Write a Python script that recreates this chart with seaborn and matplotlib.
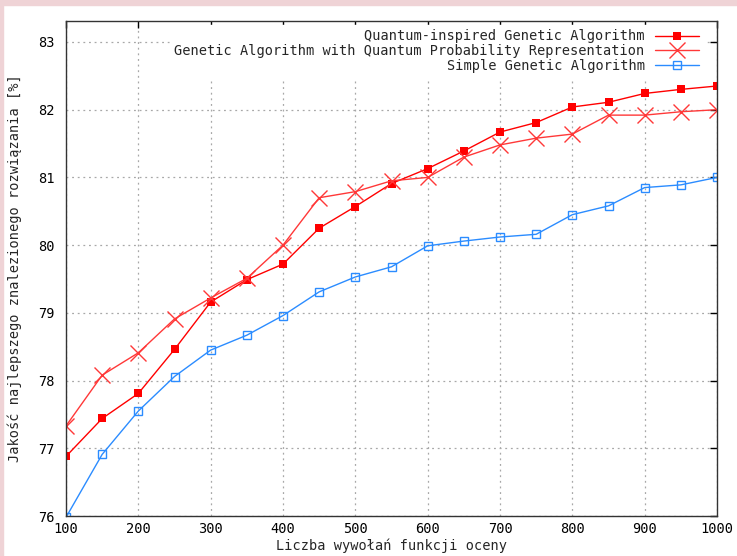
import numpy as np
import matplotlib
matplotlib.use("Agg")
import matplotlib.pyplot as plt
import seaborn as sns
from matplotlib.patches import Rectangle

# number of fitness function evaluations
evaluations = [100, 150, 200, 250, 300, 350, 400, 450, 500, 550,
               600, 650, 700, 750, 800, 850, 900, 950, 1000]

# quality of best solution found [%]
qiga = [76.88, 77.44, 77.81, 78.46, 79.16, 79.49, 79.72, 80.25, 80.57, 80.91,
        81.13, 81.39, 81.67, 81.81, 82.04, 82.11, 82.24, 82.30, 82.35]
gaqpr = [77.33, 78.08, 78.41, 78.91, 79.22, 79.51, 80.00, 80.70, 80.79, 80.95,
         81.00, 81.30, 81.48, 81.58, 81.64, 81.92, 81.92, 81.97, 82.00]
sga = [75.98, 76.91, 77.55, 78.06, 78.45, 78.67, 78.96, 79.31, 79.53, 79.68,
       79.99, 80.06, 80.12, 80.16, 80.45, 80.58, 80.85, 80.89, 81.00]

series_names = ["Quantum-inspired Genetic Algorithm",
                "Genetic Algorithm with Quantum Probability Representation",
                "Simple Genetic Algorithm"]

sns.set_style("white")
plt.rcParams['font.family'] = ['DejaVu Sans Mono']
plt.rcParams['font.size'] = 9.8

fig = plt.figure(figsize=(7.37, 5.56), dpi=100)
# pink frame at the top and left edges
fig.add_artist(Rectangle((0, 1 - 5 / 556), 1, 5 / 556, transform=fig.transFigure,
                         color="#efd3d6", zorder=-1))
fig.add_artist(Rectangle((0, 0), 3 / 737, 1, transform=fig.transFigure,
                         color="#efd3d6", zorder=-1))

ax = fig.add_axes([66 / 737, 1 - 516 / 556, (717 - 66) / 737, (516 - 21) / 556])

sns.lineplot(x=evaluations, y=qiga, ax=ax, color="#ff0000", lw=1,
             marker="s", markersize=6, markeredgewidth=0, label=series_names[0])
sns.lineplot(x=evaluations, y=gaqpr, ax=ax, color="#ff3838", lw=1,
             marker="x", markersize=12, markeredgewidth=1,
             markeredgecolor="#ff3838", label=series_names[1])
sns.lineplot(x=evaluations, y=sga, ax=ax, color="#2b8cff", lw=1,
             marker="s", markersize=6, markerfacecolor="none",
             markeredgecolor="#2b8cff", markeredgewidth=1, label=series_names[2])

ax.set_xlim(100, 1000)
ax.set_ylim(76, 83.31)
ax.set_xticks(range(100, 1001, 100))
ax.set_yticks(range(76, 84))
ax.grid(True, color="#a8a8a8", linestyle=(0, (1.5, 3)), linewidth=0.9)
ax.set_axisbelow(True)
ax.tick_params(direction="in", top=True, right=True, length=5, width=1,
               labelsize=9.8, colors="black")
ax.tick_params(axis="x", pad=4)
ax.tick_params(axis="y", pad=8)
for s in ax.spines.values():
    s.set_color("#333333")
    s.set_linewidth(1)

ax.set_xlabel("Liczba wywołań funkcji oceny", fontsize=9.8, labelpad=2)
ax.set_ylabel("Jakość najlepszego znalezionego rozwiązania [%]", fontsize=9.8, labelpad=12)

leg = ax.legend(loc="upper right", bbox_to_anchor=(0.989, 1.005), markerfirst=False,
                frameon=True, framealpha=1, edgecolor="white", fancybox=False,
                handlelength=3.2, handletextpad=0.8, labelspacing=0.05,
                borderpad=0.3, fontsize=9.8)

fig.savefig("out.png", dpi=100)
